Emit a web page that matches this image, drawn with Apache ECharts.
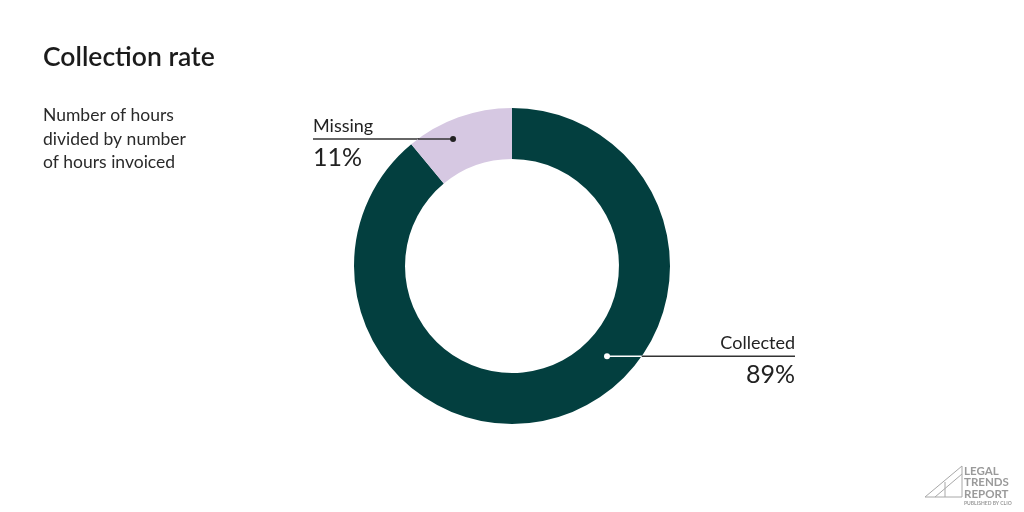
<!DOCTYPE html>
<html><head><meta charset="utf-8">
<script src="https://cdn.jsdelivr.net/npm/echarts@6/dist/echarts.min.js"></script>
<style>html,body{margin:0;padding:0;background:#fff}#c{width:1024px;height:512px}</style>
</head><body><div id="c"></div>
<script>
const categories = ['Collected', 'Missing'];
const values = [89, 11];
const valueLabels = ['89%', '11%'];
const colors = ['#033f3f', '#d6c8e2'];

const CX = 512, CY = 266, R_IN = 107, R_OUT = 158;
const FONT = 'Lato, "Noto Sans", sans-serif';
// label anchors: [angle clockwise from top (deg), radius px, label end x]
const anchors = [[133.5, 131, 795], [-24.9, 140, 313]];
function anchorPt(i){
  const a = anchors[i][0] * Math.PI / 180, r = anchors[i][1];
  return [CX + r * Math.sin(a), CY - r * Math.cos(a)];
}
const p0 = anchorPt(0), p1 = anchorPt(1);
const outerX0 = CX + Math.sqrt(R_OUT*R_OUT - (p0[1]-CY)*(p0[1]-CY));
const outerX1 = CX - Math.sqrt(R_OUT*R_OUT - (p1[1]-CY)*(p1[1]-CY));

const chart = echarts.init(document.getElementById('c'));
chart.setOption({
  backgroundColor: '#fff',
  title: {
    text: 'Collection rate', left: 38, top: 39,
    textStyle: {fontFamily: FONT, fontSize: 26.5, fontWeight: 600, color: '#1b1b1b'}
  },
  graphic: [
    {type: 'text', left: 43, top: 104, z: 100, style: {
      text: 'Number of hours\ndivided by number\nof hours invoiced',
      font: '17.5px ' + FONT, lineHeight: 23.5, fill: '#2a2a2a'}},
    {type: 'line', z: 100, shape: {x1: p0[0], y1: p0[1], x2: outerX0, y2: p0[1]},
      style: {stroke: '#ffffff', lineWidth: 1.5}},
    {type: 'line', z: 100, shape: {x1: p1[0], y1: p1[1], x2: outerX1, y2: p1[1]},
      style: {stroke: '#333333', lineWidth: 1.5}},
    {type: 'circle', z: 101, shape: {cx: p0[0], cy: p0[1], r: 3}, style: {fill: '#ffffff'}},
    {type: 'circle', z: 101, shape: {cx: p1[0], cy: p1[1], r: 3}, style: {fill: '#222222'}},
    {type: 'polyline', z: 100, shape: {points: [[925,497],[962,466],[962,497],[925,497]]},
      style: {stroke: '#a8a8a8', lineWidth: 1, fill: null}},
    {type: 'polyline', z: 100, shape: {points: [[935,497],[962,474]]},
      style: {stroke: '#a8a8a8', lineWidth: 1, fill: null}},
    {type: 'polyline', z: 100, shape: {points: [[945,482],[945,497]]},
      style: {stroke: '#a8a8a8', lineWidth: 1, fill: null}},
    {type: 'text', left: 964, top: 465, z: 100, style: {
      text: '{b|LEGAL}\n{b|TRENDS}\n{b|REPORT}\n{s|PUBLISHED BY CLIO}',
      rich: {
        b: {font: 'bold 11.5px ' + FONT, fill: '#9a9a9a', lineHeight: 11.5},
        s: {font: 'bold 5px ' + FONT, fill: '#9a9a9a', lineHeight: 8}
      }}}
  ],
  series: [{
    type: 'pie',
    center: [CX, CY],
    radius: [R_IN, R_OUT],
    startAngle: 90,
    clockwise: true,
    silent: true,
    data: categories.map((c, i) => ({name: c, value: values[i], itemStyle: {color: colors[i]}})),
    label: {
      show: true,
      formatter: p => '{n|' + p.name + '}\n{v|' + valueLabels[p.dataIndex] + '}',
      rich: {
        n: {fontFamily: FONT, fontSize: 18, lineHeight: 22, color: '#222'},
        v: {fontFamily: FONT, fontSize: 25, lineHeight: 42, color: '#222'}
      }
    },
    labelLine: {show: true, lineStyle: {color: '#333', width: 1.5}},
    labelLayout: function (params) {
      const i = params.dataIndex;
      const p = i === 0 ? p0 : p1;
      const ex = anchors[i][2];
      return {
        x: ex, y: p[1] - 24,
        align: i === 0 ? 'right' : 'left',
        verticalAlign: 'top',
        labelLinePoints: [[p[0], p[1]], [(p[0]+ex)/2, p[1]], [ex, p[1]]]
      };
    }
  }]
});
</script></body></html>
